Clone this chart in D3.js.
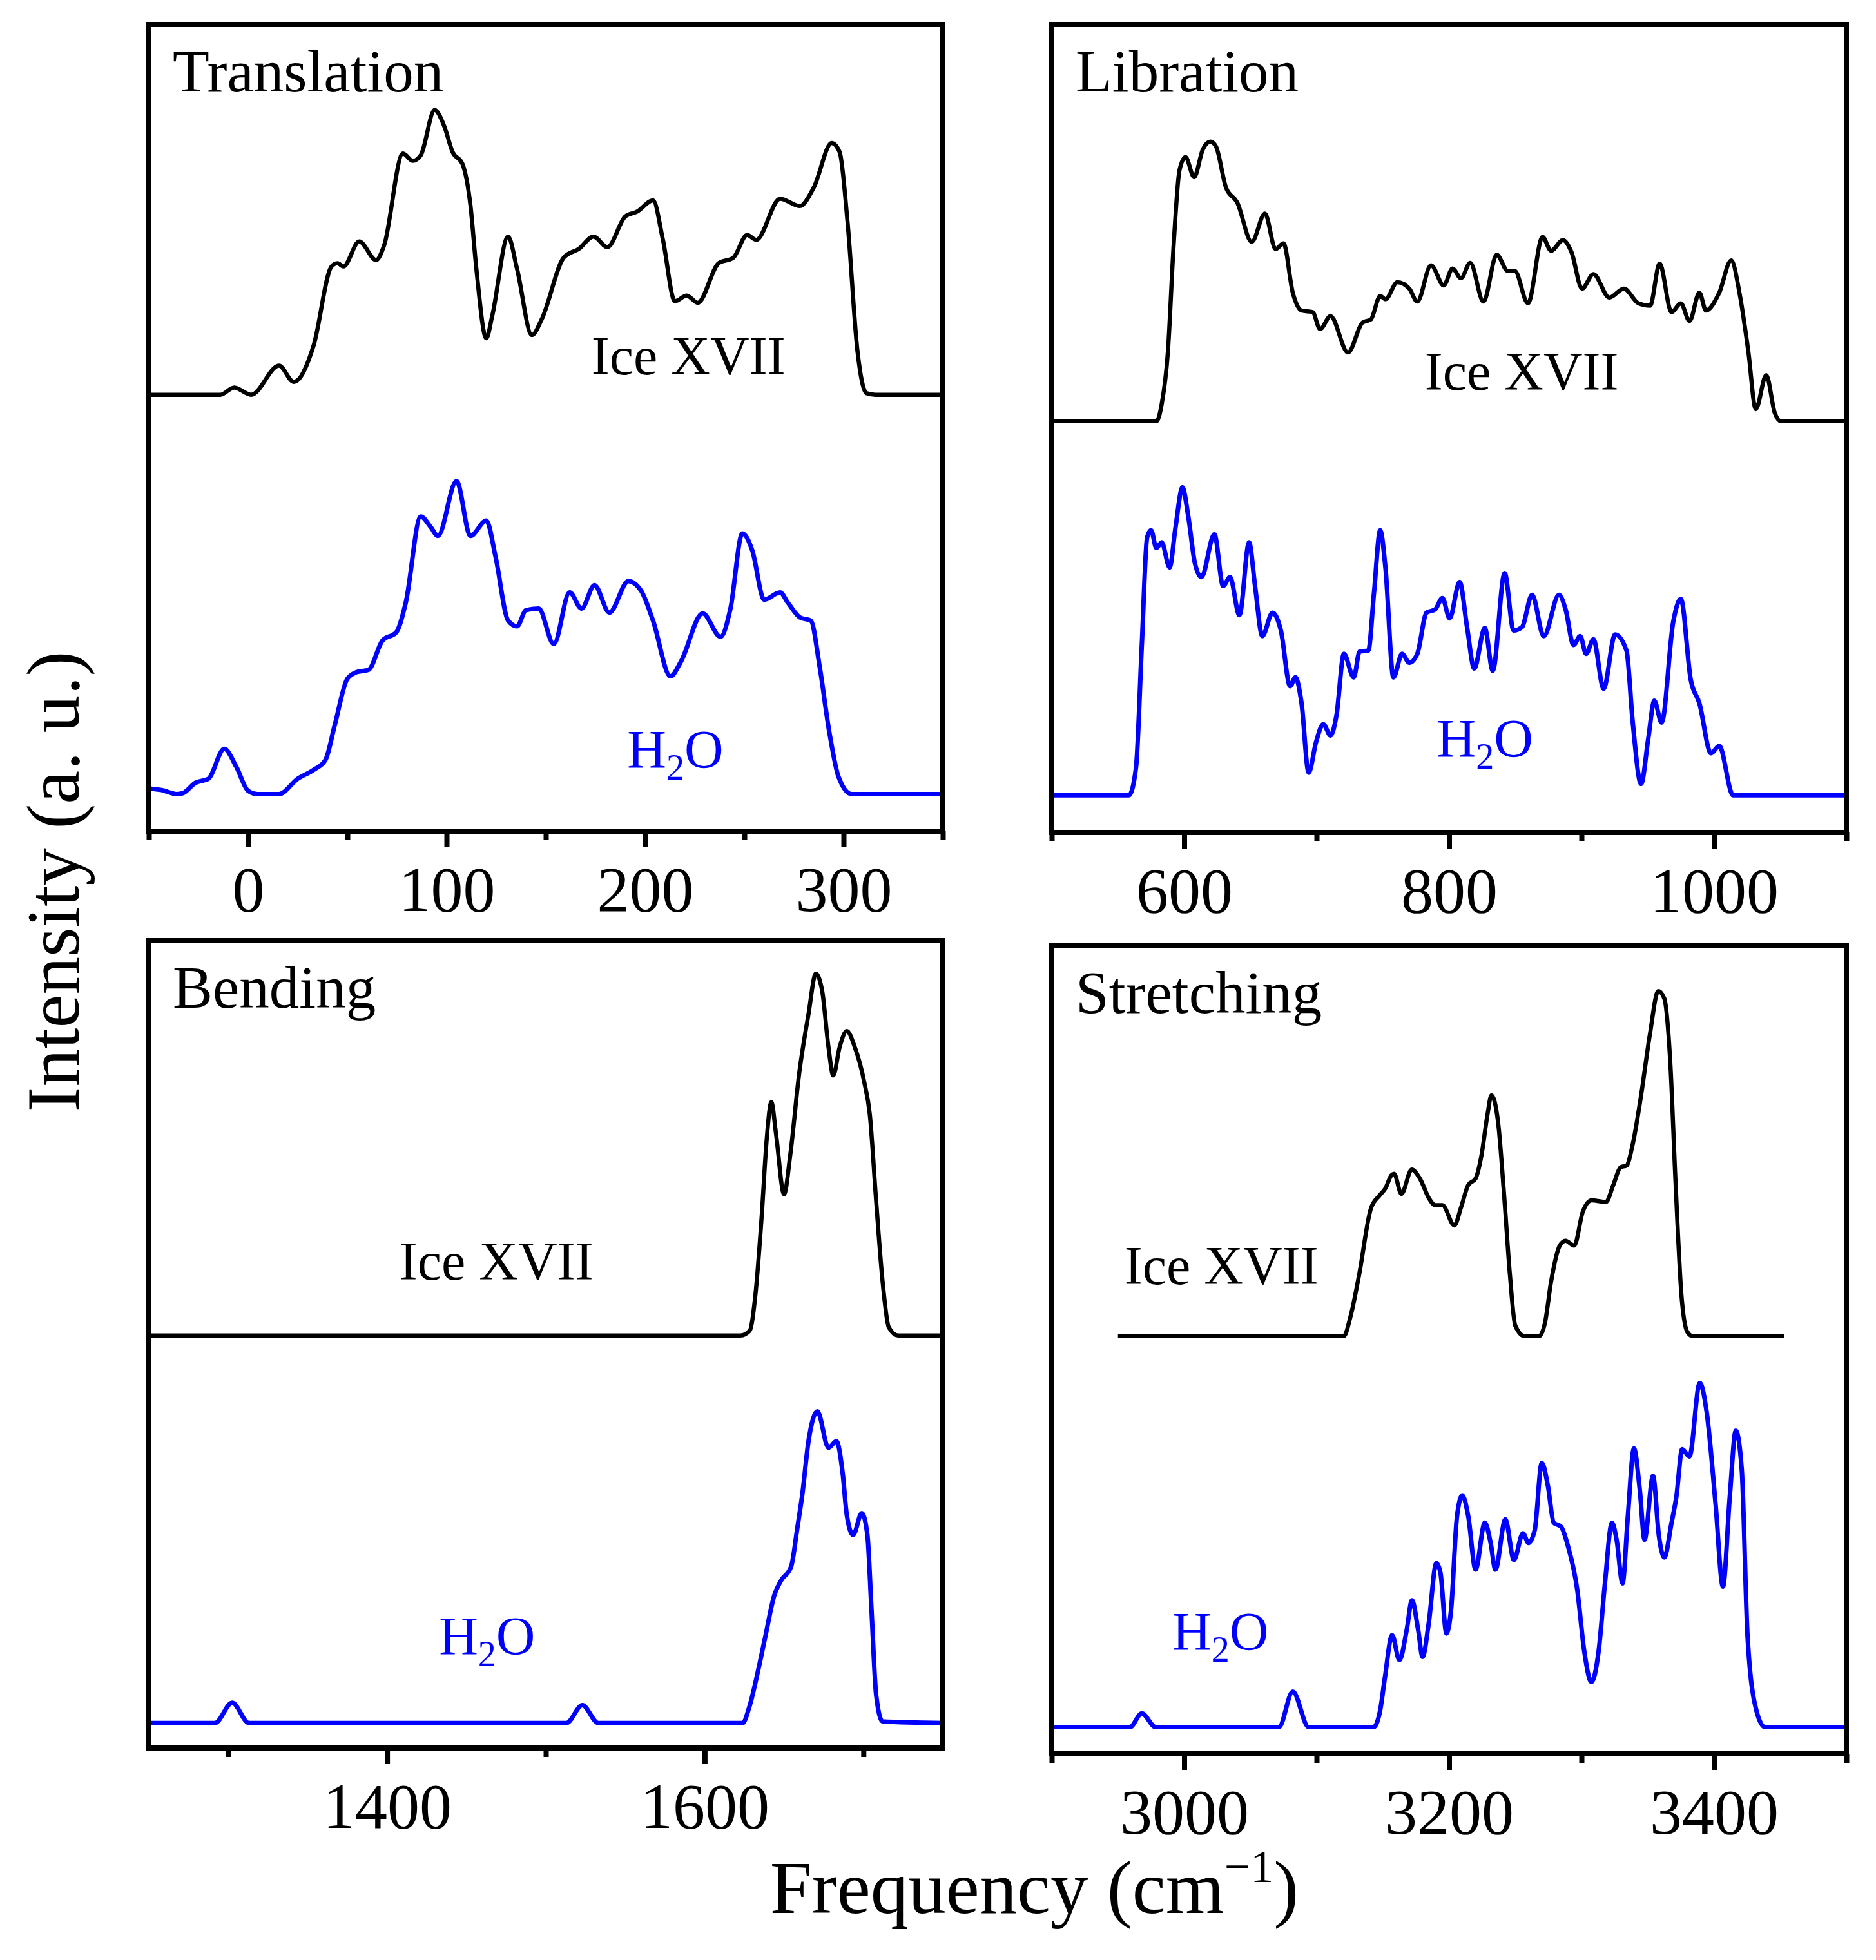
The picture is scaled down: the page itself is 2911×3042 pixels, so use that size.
<!DOCTYPE html>
<html>
<head>
<meta charset="utf-8">
<script src="https://cdn.jsdelivr.net/npm/d3@7"></script>
<style>
  html, body { margin: 0; padding: 0; background: #fff; }
  svg { display: block; }
</style>
</head>
<body>
<div id="chart"></div>
<script>
// Vibrational density of states, Ice XVII vs H2O, four frequency bands
// Each series: [frequency (cm-1), intensity (a.u., panel scaled 0-100)]

const translationIce = [
  [-50, 54.1], [-14, 54.1], [-7, 55.0], [1.5, 54.1], [15.6, 57.7], [23, 55.7], [33, 60.2],
  [42, 70.0], [45, 70.4], [48, 70.0], [56, 73.1], [64.5, 70.8], [68.5, 72.6], [78, 84.0],
  [83, 83.1], [87, 83.8], [94, 89.4], [98.8, 87.4], [103, 84.2], [108, 82.7], [112, 77.6],
  [115, 69.7], [120, 61.1], [123, 63.9], [131, 73.7], [135.5, 69.7], [143, 61.5], [148, 63.5],
  [159, 71.1], [166.7, 72.2], [174, 73.7], [181, 72.4], [190, 76.2], [196, 76.8], [204, 78.2],
  [209, 73.3], [215, 65.7], [221, 66.4], [226.5, 65.5], [237, 70.4], [244.5, 71.1], [251.4, 73.9],
  [256, 73.3], [268, 78.4], [278, 77.5], [285, 79.8], [294, 85.3], [298, 84.2], [302, 75.5],
  [307, 59.5], [311.5, 54.3], [316, 54.1], [350, 54.1]
];
const translationH2O = [
  [-50, 5.3], [-43.6, 5.1], [-36, 4.6], [-33, 4.7], [-26.5, 6.0], [-20, 6.5], [-12, 10.2],
  [-6, 8.0], [0, 5.0], [4.7, 4.6], [15.6, 4.6], [25, 6.5], [33, 7.6], [39, 8.85], [43.6, 13.1],
  [50, 18.9], [54.5, 19.7], [60.7, 20.0], [67.6, 23.6], [74.8, 24.7], [79.4, 28.3], [87, 39.0],
  [92, 37.7], [95.6, 36.6], [105, 43.4], [112, 36.6], [120, 38.5], [124.6, 34.1], [131, 26.1],
  [135.5, 25.4], [140, 27.4], [146.4, 27.6], [154, 23.2], [162, 29.6], [168, 27.6], [174.5, 30.5],
  [182, 27.1], [191.6, 31.0], [198, 29.8], [204, 26.1], [212.8, 19.2], [218, 21.0], [229, 27.0],
  [238, 24.1], [243, 27.6], [249, 36.9], [254, 34.8], [260, 28.7], [268, 29.6], [272, 28.3],
  [278, 26.5], [283.5, 26.1], [288, 20.3], [292.8, 12.3], [297.5, 6.7], [304, 4.6], [350, 4.6]
];

const librationIce = [
  [500, 50.9], [579, 50.9], [583, 53.0], [587.7, 59.5], [592, 72.6], [596.5, 82.0], [601, 83.6],
  [607.5, 81.1], [614, 84.5], [619.7, 85.5], [624, 84.9], [631.6, 79.8], [640, 78.0], [651, 73.1],
  [661, 76.6], [669, 72.2], [675, 72.9], [682, 66.8], [688.6, 64.6], [697, 64.4], [702.6, 62.3],
  [710.5, 63.9], [723.7, 59.4], [734.6, 63.1], [741, 63.5], [748, 66.4], [752, 66.0], [761, 68.1],
  [770, 67.3], [776, 65.7], [786.4, 70.2], [796, 67.7], [802.6, 69.8], [809, 68.6], [816, 70.5],
  [826, 65.7], [836, 71.5], [844.3, 69.5], [849.6, 69.5], [859.6, 65.5], [870.6, 73.7], [877, 72.0],
  [886, 73.3], [892.5, 71.8], [900.4, 67.3], [909, 69.1], [921, 66.2], [932, 67.3], [943, 65.5],
  [951.8, 65.2], [959, 70.4], [968, 64.4], [975, 65.5], [981.6, 63.3], [989, 66.8], [994, 64.6],
  [1004, 66.8], [1013, 70.8], [1019.7, 66.4], [1026, 59.5], [1031.6, 52.4], [1039.5, 56.6],
  [1046, 51.9], [1050.4, 50.9], [1100, 50.9]
];
const librationH2O = [
  [500, 4.6], [558.3, 4.6], [563.6, 8.0], [568, 23.2], [572, 36.5], [575, 37.4], [579, 35.2],
  [583, 35.9], [589, 32.8], [593.4, 37.7], [598.7, 42.7], [603, 39.2], [608, 33.4], [613, 31.6],
  [622.8, 36.9], [629.4, 30.5], [634.6, 31.6], [641.7, 26.9], [649, 35.9], [653.5, 30.5],
  [659, 24.3], [666.7, 27.2], [673, 25.0], [680, 18.1], [684, 19.2], [688.6, 16.0], [694, 7.4],
  [699.6, 11.2], [705, 13.4], [710.5, 12.0], [715, 14.5], [720.6, 22.1], [728, 19.2], [732.5, 22.4],
  [739, 22.5], [743.4, 29.8], [748, 37.4], [752, 32.7], [758, 19.2], [764.5, 22.1], [770, 21.0],
  [776, 22.1], [783, 27.2], [789.5, 27.6], [795, 29.0], [800.4, 26.5], [808, 31.0], [813.6, 25.4],
  [819, 20.3], [827, 25.3], [833, 20.0], [842, 32.1], [848.7, 25.0], [855, 25.4], [862.7, 29.4],
  [871.5, 24.3], [883, 29.4], [888, 27.6], [894, 23.2], [899, 24.3], [903.5, 22.1], [909, 23.9],
  [916.7, 17.8], [925.4, 24.5], [934, 22.5], [938.6, 13.8], [945, 6.0], [950.4, 11.6], [955, 16.3],
  [960.5, 13.6], [969.3, 26.1], [975, 28.9], [982.5, 18.9], [989, 16.0], [997.8, 9.8], [1004, 10.7],
  [1014.5, 4.6], [1100, 4.6]
];

const bendingIce = [
  [1250, 51.1], [1622.6, 51.1], [1628.4, 51.7], [1632, 56.2], [1636, 66.1], [1639, 75.2],
  [1642, 80.0], [1645, 76.0], [1650, 68.6], [1654, 73.6], [1659.5, 83.5], [1665.4, 90.9],
  [1670, 95.9], [1674, 93.8], [1678, 86.8], [1681, 83.3], [1685, 86.8], [1689.5, 88.8],
  [1694.6, 86.8], [1700.4, 82.6], [1704, 78.5], [1708, 67.8], [1712, 57.9], [1716, 52.1],
  [1721.8, 51.1], [1750, 51.1]
];
const bendingH2O = [
  [1250, 3.1], [1291.6, 3.1], [1302.5, 5.6], [1313, 3.1], [1513, 3.1], [1523, 5.3], [1533, 3.1],
  [1624, 3.1], [1628, 5.0], [1634, 9.9], [1638, 13.6], [1644, 19.0], [1648, 20.7], [1654.5, 22.5],
  [1658.4, 27.3], [1661.5, 31.4], [1665.4, 38.0], [1671, 41.7], [1678, 37.2], [1683, 38.0],
  [1687, 33.9], [1689.5, 28.9], [1693.5, 26.4], [1699, 29.1], [1702.5, 26.4], [1705, 17.4],
  [1708, 6.6], [1712, 3.3], [1750, 3.1]
];

const stretchingIce = [
  [2950, 51.7], [3120.5, 51.7], [3125.7, 54.2], [3132, 59.2], [3141, 67.5], [3147.5, 69.1],
  [3152, 70.0], [3156.4, 71.6], [3158.5, 71.8], [3164, 69.3], [3171.8, 72.3], [3178, 71.2],
  [3185, 68.7], [3189.5, 67.9], [3195, 67.9], [3204, 65.4], [3209, 67.6], [3214.5, 70.4],
  [3220, 71.2], [3224.5, 74.1], [3229, 79.1], [3232, 81.5], [3237, 78.2], [3241.5, 69.3],
  [3246, 59.2], [3250, 53.0], [3257, 51.7], [3268, 51.7], [3272.5, 53.4], [3277, 58.4],
  [3283.6, 62.9], [3288, 63.5], [3294.5, 62.9], [3301, 67.1], [3307.6, 68.5], [3318.5, 68.3],
  [3324, 70.4], [3329.5, 72.6], [3334, 72.8], [3338.5, 75.3], [3345, 81.5], [3351.6, 89.0],
  [3358, 94.4], [3362.5, 93.5], [3367, 85.7], [3371, 70.8], [3375.5, 56.7], [3380, 52.2],
  [3384, 51.7], [3453, 51.7]
];
const stretchingH2O = [
  [2900, 3.3], [2959, 3.3], [2968, 5.0], [2978.5, 3.3], [3071.5, 3.3], [3082, 7.7], [3094, 3.3],
  [3143, 3.3], [3148, 5.4], [3151.6, 9.5], [3157, 14.7], [3162.5, 11.6], [3168, 15.3], [3172, 19.0],
  [3176.7, 15.3], [3180, 12.0], [3184.6, 16.1], [3190.4, 23.6], [3193.5, 22.4], [3198, 14.9],
  [3201.5, 17.8], [3206, 29.4], [3210, 32.0], [3214.5, 29.4], [3220, 22.8], [3227, 28.6],
  [3231.4, 26.1], [3235, 22.8], [3242.5, 29.0], [3249, 24.0], [3255.8, 27.3], [3260, 26.1],
  [3264.7, 27.7], [3270, 36.0], [3274.7, 33.1], [3279, 28.6], [3284.6, 28.1], [3289.8, 25.7],
  [3296.8, 20.3], [3302, 12.8], [3307.5, 8.9], [3313, 12.8], [3317.7, 21.1], [3323, 28.6],
  [3326.5, 26.5], [3331, 21.1], [3335, 29.4], [3339.6, 37.8], [3344, 32.7], [3347.6, 26.5],
  [3354, 34.4], [3358.5, 26.9], [3362.5, 24.3], [3368, 28.6], [3371.7, 31.9], [3376, 37.7],
  [3381.5, 36.8], [3389.3, 45.9], [3394.6, 42.2], [3401.2, 31.0], [3406.8, 20.7], [3412, 31.9],
  [3416.5, 40.0], [3421, 35.2], [3425.4, 14.5], [3432, 5.4], [3438.6, 3.3], [3500, 3.3]
];

// tick values per panel
const translationTicks = [0, 100, 200, 300];
const translationMinor = [-50, 50, 150, 250, 350];
const librationTicks = [600, 800, 1000];
const librationMinor = [500, 700, 900, 1100];
const bendingTicks = [1400, 1600];
const bendingMinor = [1300, 1500, 1700];
const stretchingTicks = [3000, 3200, 3400];
const stretchingMinor = [2900, 3100, 3300, 3500];

// layout
const W = 2911, H = 3042;
const FONT = '"Liberation Serif", "Times New Roman", serif';

const panels = [
  { title: 'Translation', left: 231, top: 38, width: 1232, height: 1252, domain: [-50, 350],
    ticks: translationTicks, minor: translationMinor, ice: translationIce, h2o: translationH2O,
    iceLabel: [173, 56.6], h2oLabel: [191, 7.8] },
  { title: 'Libration', left: 1632, top: 38, width: 1233, height: 1254, domain: [500, 1100],
    ticks: librationTicks, minor: librationMinor, ice: librationIce, h2o: librationH2O,
    iceLabel: [781.6, 54.8], h2oLabel: [790.8, 9.3] },
  { title: 'Bending', left: 231, top: 1460, width: 1232, height: 1253, domain: [1250, 1750],
    ticks: bendingTicks, minor: bendingMinor, ice: bendingIce, h2o: bendingH2O,
    iceLabel: [1407.8, 58.0], h2oLabel: [1432.7, 11.6] },
  { title: 'Stretching', left: 1632, top: 1468, width: 1233, height: 1254, domain: [2900, 3500],
    ticks: stretchingTicks, minor: stretchingMinor, ice: stretchingIce, h2o: stretchingH2O,
    iceLabel: [2954.9, 58.1], h2oLabel: [2991, 12.8] }
];

const svg = d3.select('#chart')
  .append('svg')
  .attr('width', W)
  .attr('height', H)
  .attr('viewBox', `0 0 ${W} ${H}`)
  .style('font-family', FONT);

panels.forEach(p => {
  const g = svg.append('g').attr('transform', `translate(${p.left},${p.top})`);

  const x = d3.scaleLinear().domain(p.domain).range([0, p.width]);
  const y = d3.scaleLinear().domain([0, 100]).range([p.height, 0]);

  const line = d3.line()
    .x(d => x(d[0]))
    .y(d => y(d[1]))
    .curve(d3.curveMonotoneX);

  // curves
  g.append('path')
    .datum(p.ice)
    .attr('fill', 'none')
    .attr('stroke', '#000')
    .attr('stroke-width', 6.5)
    .attr('stroke-linejoin', 'round')
    .attr('d', line);

  g.append('path')
    .datum(p.h2o)
    .attr('fill', 'none')
    .attr('stroke', '#0000ff')
    .attr('stroke-width', 7)
    .attr('stroke-linejoin', 'round')
    .attr('d', line);

  // minor ticks
  g.append('g')
    .attr('transform', `translate(0,${p.height})`)
    .call(d3.axisBottom(x).tickValues(p.minor).tickSize(14).tickFormat(''))
    .call(a => a.select('.domain').remove())
    .call(a => a.selectAll('line').attr('stroke-width', 8));

  // major ticks with labels
  g.append('g')
    .attr('transform', `translate(0,${p.height})`)
    .call(d3.axisBottom(x).tickValues(p.ticks).tickSize(25).tickPadding(28).tickFormat(d3.format('d')))
    .call(a => a.select('.domain').remove())
    .call(a => a.selectAll('line').attr('stroke-width', 8))
    .call(a => a.selectAll('text').attr('font-size', 100).attr('fill', '#000'))
    .attr('font-family', FONT)
    .attr('font-size', 100);

  // frame
  g.append('rect')
    .attr('x', 0)
    .attr('y', 0)
    .attr('width', p.width)
    .attr('height', p.height)
    .attr('fill', 'none')
    .attr('stroke', '#000')
    .attr('stroke-width', 8);

  // panel title
  g.append('text')
    .attr('x', 37)
    .attr('y', 104)
    .attr('font-size', 93)
    .attr('fill', '#000')
    .text(p.title);

  // series labels
  g.append('text')
    .attr('x', x(p.iceLabel[0]))
    .attr('y', y(p.iceLabel[1]))
    .attr('font-size', 84)
    .attr('fill', '#000')
    .text('Ice XVII');

  const h = g.append('text')
    .attr('x', x(p.h2oLabel[0]))
    .attr('y', y(p.h2oLabel[1]))
    .attr('font-size', 84)
    .attr('fill', '#0000ff');
  h.append('tspan').text('H');
  h.append('tspan').attr('font-size', 56).attr('dy', 18).text('2');
  h.append('tspan').attr('dy', -18).text('O');
});

// axis titles
svg.append('text')
  .attr('transform', 'translate(122,1368) rotate(-90)')
  .attr('text-anchor', 'middle')
  .attr('font-size', 117)
  .attr('fill', '#000')
  .text('Intensity (a. u.)');

const xt = svg.append('text')
  .attr('x', 1605)
  .attr('y', 2969)
  .attr('text-anchor', 'middle')
  .attr('font-size', 117)
  .attr('fill', '#000');
xt.append('tspan').text('Frequency (cm');
xt.append('tspan').attr('font-size', 72).attr('dy', -48).text('\u22121');
xt.append('tspan').attr('dy', 48).text(')');
</script>
</body>
</html>
